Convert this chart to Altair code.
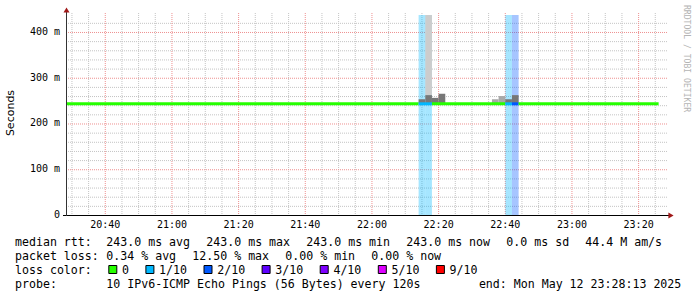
import altair as alt
import pandas as pd

# ---------------- data ----------------
graph_start = "20:28:13"
graph_end = "23:28:13"
step_min = 2  # probe every 120 s

median_ms = 243.0
seg_start = ["20:28", "22:14", "22:18", "22:40", "22:42", "22:44"]
seg_end = ["22:14", "22:18", "22:40", "22:42", "22:44", "23:26"]
seg_loss = ["0", "1/10", "0", "1/10", "2/10", "0"]

band_start = ["22:14", "22:16", "22:40", "22:42"]
band_loss = ["1/10", "1/10", "1/10", "2/10"]

smoke_start = ["22:14", "22:16", "22:16", "22:18", "22:20", "22:36", "22:38", "22:40", "22:42"]
smoke_low_ms = [243, 262, 243, 243, 243, 243, 243, 243, 243]
smoke_high_ms = [253, 437, 262, 256, 265, 253, 260, 253, 262]
smoke_shade = ["dark", "light", "dark", "dark", "dark", "mid", "mid", "dark", "dark"]
shade_names = ["light", "mid", "dark"]
shade_colors = ["#cccccc", "#a8a8a8", "#777777"]

loss_labels = ["0", "1/10", "2/10", "3/10", "4/10", "5/10", "9/10"]
loss_colors = ["#26ff00", "#00b8ff", "#0059ff", "#5e00ff", "#7e00ff", "#dd00ff", "#ff0000"]

x_tick_labels = ["20:40", "21:00", "21:20", "21:40", "22:00", "22:20", "22:40", "23:00", "23:20"]
y_tick_ms = [0, 100, 200, 300, 400]
y_tick_text = ["0  ", "100 m", "200 m", "300 m", "400 m"]

row1_head = "median rtt:"
row1_items = ["243.0 ms avg", "243.0 ms max", "243.0 ms min", "243.0 ms now", "0.0 ms sd", "44.4 M am/s"]
row2_head = "packet loss:"
row2_items = ["0.34 % avg", "12.50 % max", "0.00 % min", "0.00 % now"]
row3_head = "loss color:"
row4_head = "probe:"
row4_text = "10 IPv6-ICMP Echo Pings (56 Bytes) every 120s"
row4_end = "end: Mon May 12 23:28:13 2025"
watermark = "RRDTOOL / TOBI OETIKER"
y_title = "Seconds"


def to_min(t):
    p = t.split(":")
    s = int(p[2]) if len(p) > 2 else 0
    return (int(p[0]) - 20) * 60 + int(p[1]) + s / 60.0


# ---------------- layout ----------------
W, H = 600, 201
PAD = {"left": 66, "top": 14, "right": 31, "bottom": 82}
MONO = "DejaVu Sans Mono"
x0 = to_min(graph_start)
xscale = alt.Scale(domain=[x0, x0 + 180], nice=False, zero=False)
yscale = alt.Scale(domain=[0, 439.3], nice=False, zero=False)
color_scale = alt.Scale(domain=loss_labels, range=loss_colors)
NB = "\u00a0"

one = pd.DataFrame({"a": [0]})
layers = []

# grid
minor_x = [m for m in range(30, 209, 5) if m % 20 != 0]
major_x = [to_min(t) for t in x_tick_labels]
minor_y = [v for v in range(20, 440, 20) if v % 100 != 0]
major_y = [v for v in y_tick_ms if v > 0]

def vgrid(vals, col):
    return alt.Chart(pd.DataFrame({"v": vals})).mark_rule(
        color=col, strokeDash=[1, 1], strokeWidth=1).encode(
        x=alt.X("v:Q", scale=xscale, axis=None), y=alt.value(-1), y2=alt.value(H))

def hgrid(vals, col):
    return alt.Chart(pd.DataFrame({"v": vals})).mark_rule(
        color=col, strokeDash=[1, 1], strokeWidth=1, yOffset=0.5).encode(
        y=alt.Y("v:Q", scale=yscale, axis=None), x=alt.value(0), x2=alt.value(602))

layers += [vgrid(minor_x, "#c4c4c4"), hgrid(minor_y, "#c4c4c4"),
           vgrid(major_x, "#ee9090"), hgrid(major_y, "#ee9090")]

# loss bands
bands = pd.DataFrame({"s": [to_min(t) for t in band_start], "loss": band_loss})
bands["e"] = bands["s"] + step_min
layers.append(alt.Chart(bands).mark_rect(opacity=0.35).encode(
    x=alt.X("s:Q", scale=xscale, axis=None), x2="e:Q",
    y=alt.value(1), y2=alt.value(H),
    color=alt.Color("loss:N", scale=color_scale, legend=None)))

# smoke (one layer per shade, fixed colour)
smoke = pd.DataFrame({"s": [to_min(t) for t in smoke_start], "lo": smoke_low_ms,
                      "hi": smoke_high_ms, "shade": smoke_shade})
smoke["e"] = smoke["s"] + step_min
for name, col in zip(shade_names, shade_colors):
    part = smoke[smoke["shade"] == name]
    if len(part) == 0:
        continue
    layers.append(alt.Chart(part).mark_rect(clip=True, color=col, opacity=1).encode(
        x=alt.X("s:Q", scale=xscale, axis=None), x2="e:Q",
        y=alt.Y("lo:Q", scale=yscale, axis=None), y2="hi:Q"))

# median line
segs = pd.DataFrame({"s": [to_min(t) for t in seg_start], "e": [to_min(t) for t in seg_end],
                     "loss": seg_loss, "ms": [median_ms] * len(seg_start)})
layers.append(alt.Chart(segs).mark_rule(strokeWidth=3, clip=True).encode(
    x=alt.X("s:Q", scale=xscale, axis=None), x2="e:Q",
    y=alt.Y("ms:Q", scale=yscale, axis=None),
    color=alt.Color("loss:N", scale=color_scale, legend=None)))

# axis lines and arrows
layers.append(alt.Chart(one).mark_rule(color="#000000", strokeWidth=1).encode(
    x=alt.value(-3), x2=alt.value(603), y=alt.value(H + 0.5)))
layers.append(alt.Chart(one).mark_rule(color="#333333", strokeWidth=1).encode(
    x=alt.value(0.5), y=alt.value(H + 1), y2=alt.value(-2)))
layers.append(alt.Chart(one).mark_point(shape="triangle-up", filled=True, color="#a01818",
                                        size=36, opacity=1).encode(
    x=alt.value(0.5), y=alt.value(-4)))
layers.append(alt.Chart(one).mark_point(shape="triangle-right", filled=True, color="#a01818",
                                        size=36, opacity=1).encode(
    x=alt.value(605), y=alt.value(H + 0.5)))

# tick labels
xl = pd.DataFrame({"v": major_x, "t": x_tick_labels})
layers.append(alt.Chart(xl).mark_text(font=MONO, fontSize=10, color="#000000",
                                      baseline="middle", align="center").encode(
    x=alt.X("v:Q", scale=xscale, axis=None), y=alt.value(H + 10), text="t:N"))
yl = pd.DataFrame({"v": y_tick_ms, "t": [s.replace(" ", NB) for s in y_tick_text]})
layers.append(alt.Chart(yl).mark_text(font=MONO, fontSize=10, color="#000000",
                                      baseline="middle", align="right").encode(
    y=alt.Y("v:Q", scale=yscale, axis=None), x=alt.value(-6), text="t:N"))

def txt(s, x, y, **kw):
    opts = dict(font=MONO, fontSize=11.6, color="#000000", baseline="alphabetic", align="left")
    opts.update(kw)
    return alt.Chart(one).mark_text(**opts).encode(
        x=alt.value(x), y=alt.value(y), text=alt.value(s.replace(" ", NB)))

# y title and watermark
layers.append(txt(y_title, -55, 99, font="DejaVu Sans", fontSize=11, angle=270,
                  align="center", baseline="middle"))
layers.append(txt(watermark, 620, -9, fontSize=8.1, angle=90, color="#b4b4b4",
                  baseline="middle"))

# legend rows
CW, GAP = 7.0, 16.0
HEAD_X, VAL_X = -51.0, 40.3
rows_y = [232, 246, 260, 274]

def row(head, items, y):
    out = [txt(head, HEAD_X, y)]
    x = VAL_X
    for it in items:
        out.append(txt(it, x, y))
        x += len(it) * CW + GAP
    return out

layers += row(row1_head, row1_items, rows_y[0])
layers += row(row2_head, row2_items, rows_y[1])

# loss color legend
layers.append(txt(row3_head, HEAD_X, rows_y[2]))
bx = 42.3
for lab, col in zip(loss_labels, loss_colors):
    layers.append(alt.Chart(one).mark_square(size=64, filled=True, color=col, stroke="#000000",
                                             strokeWidth=1, opacity=1).encode(
        x=alt.value(bx + 4.5), y=alt.value(rows_y[2] - 4.5)))
    layers.append(txt(lab, bx + 13.7, rows_y[2]))
    bx += 14.6 + len(lab) * CW + 15.5

layers.append(txt(row4_head, HEAD_X, rows_y[3]))
layers.append(txt(row4_text, VAL_X, rows_y[3]))
layers.append(txt(row4_end, 615.3, rows_y[3], align="right"))

chart = alt.layer(*layers).properties(
    width=W, height=H,
    autosize=alt.AutoSizeParams(type="none"),
    padding=PAD,
    background="#ffffff",
).configure_view(stroke=None)

chart.save("out.html", embed_options={"renderer": "svg", "actions": False})
